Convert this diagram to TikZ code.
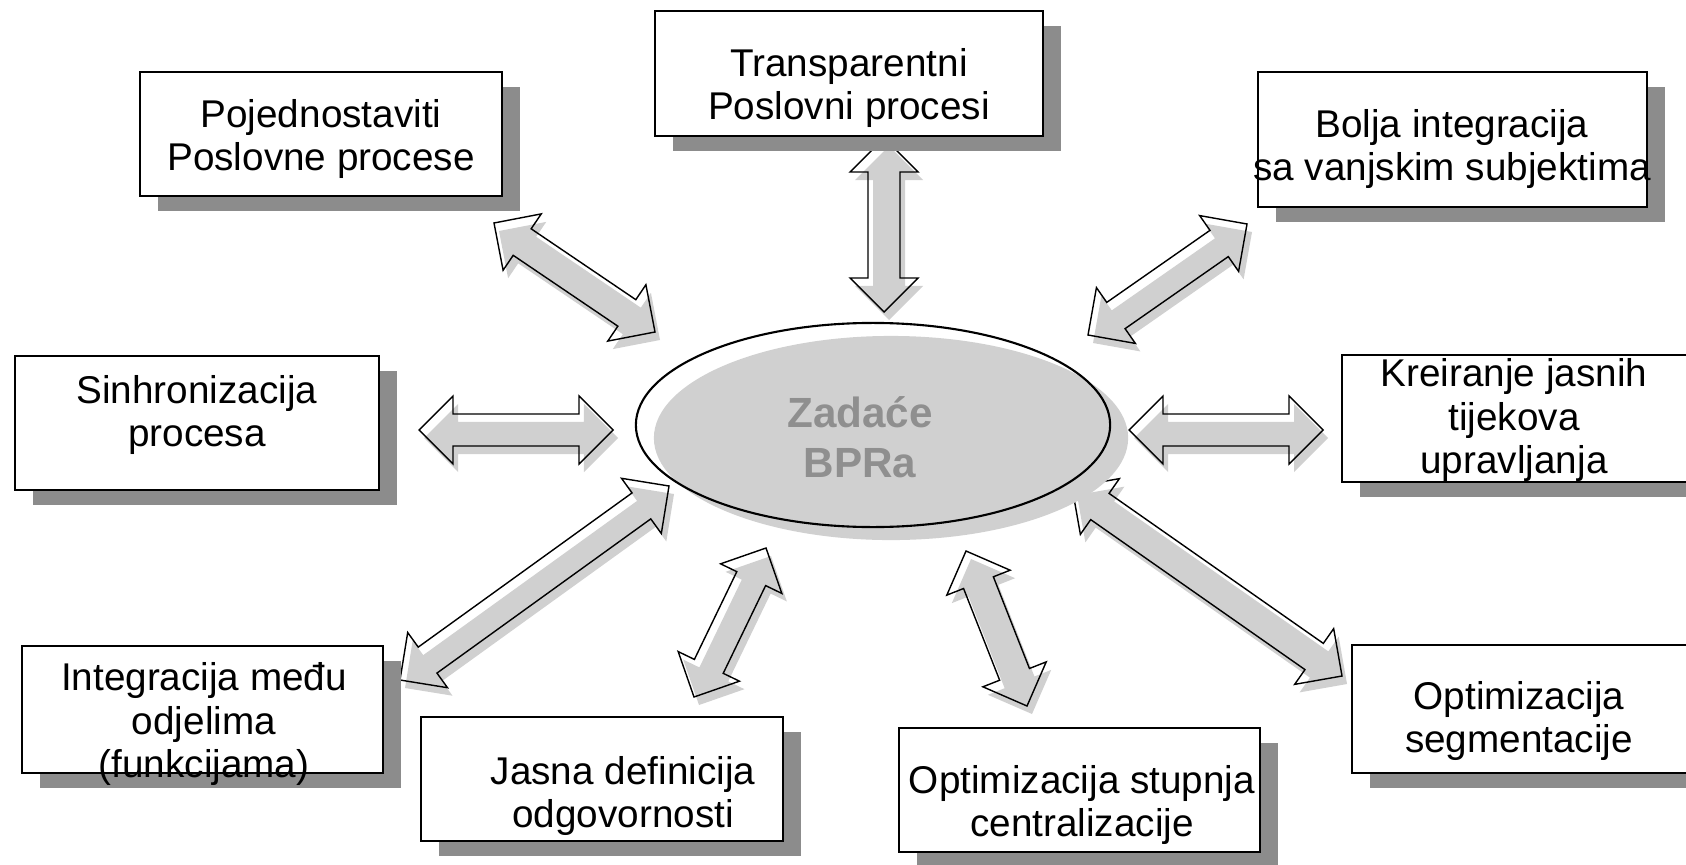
\documentclass[tikz,border=0pt]{standalone}
\usepackage{fontspec}
\setmainfont{Liberation Sans}
\usetikzlibrary{calc,shapes.geometric,shadows}
\definecolor{boxgray}{RGB}{140,140,140}
\definecolor{shadegray}{RGB}{208,208,208}
\definecolor{bprgray}{RGB}{143,143,143}
\begin{document}
\begin{tikzpicture}[x=0.01cm,y=-0.01cm]
                \tikzstyle{taskbox}=[rectangle,draw,line width=0.6pt,fill=white,inner sep=0pt,
                    drop shadow={shadow xshift=0.18cm,shadow yshift=-0.15cm,fill=boxgray,opacity=1}]
                \tikzstyle{tasktext}=[align=center,inner sep=0pt,font=\fontsize{11}{12.5}\selectfont]
                \tikzstyle{bprnode}=[ellipse,draw,line width=0.6pt,minimum width=4.74cm,minimum height=2.04cm,
                    drop shadow={shadow xshift=0.18cm,shadow yshift=-0.13cm,fill=shadegray,opacity=1}]
                \tikzstyle{bprtext}=[align=center,inner sep=0pt,text=bprgray,font=\bfseries\fontsize{12}{14.2}\selectfont]
                \tikzstyle{dualarrow}=[line width=0.4pt,to path={
                    -- ($(\tikztostart)!0.34cm!(\tikztotarget)!0.34cm!90:(\tikztotarget)$)
                    -- ($(\tikztostart)!0.34cm!(\tikztotarget)!0.16cm!90:(\tikztotarget)$)
                    -- ($(\tikztotarget)!0.34cm!(\tikztostart)!0.16cm!-90:(\tikztostart)$)
                    -- ($(\tikztotarget)!0.34cm!(\tikztostart)!0.34cm!-90:(\tikztostart)$)
                    -- (\tikztotarget)
                    -- ($(\tikztotarget)!0.34cm!(\tikztostart)!0.34cm!90:(\tikztostart)$)
                    -- ($(\tikztotarget)!0.34cm!(\tikztostart)!0.16cm!90:(\tikztostart)$)
                    -- ($(\tikztostart)!0.34cm!(\tikztotarget)!0.16cm!-90:(\tikztotarget)$)
                    -- ($(\tikztostart)!0.34cm!(\tikztotarget)!0.34cm!-90:(\tikztotarget)$)
                    -- cycle}]
                \tikzstyle{arrowshade}=[fill=shadegray,draw=none,transform canvas={shift={(0.05cm,-0.08cm)}}]
                \useasboundingbox (0,0) rectangle (1686,864);
                \begin{scope}
                    \coordinate (pojTip) at (494,223);
                    \coordinate (pojEnd) at (655,332);
                    \coordinate (traTip) at (884,138);
                    \coordinate (traEnd) at (884,312);
                    \coordinate (bolTip) at (1247,224);
                    \coordinate (bolEnd) at (1088,335);
                    \coordinate (sinTip) at (419,430);
                    \coordinate (sinEnd) at (613,430);
                    \coordinate (kreTip) at (1323,430);
                    \coordinate (kreEnd) at (1129,430);
                    \coordinate (intTip) at (400,680);
                    \coordinate (intEnd) at (669,486);
                    \coordinate (jasTip) at (694,697);
                    \coordinate (jasEnd) at (766,548);
                    \coordinate (cenTip) at (1027,706);
                    \coordinate (cenEnd) at (966,551);
                    \coordinate (segTip) at (1342,676);
                    \coordinate (segEnd) at (1072,487);
                \end{scope}
                \begin{scope}
                    \fill[dualarrow,arrowshade] (pojTip) to (pojEnd);
                    \fill[dualarrow,arrowshade] (traTip) to (traEnd);
                    \fill[dualarrow,arrowshade] (bolTip) to (bolEnd);
                    \fill[dualarrow,arrowshade] (sinTip) to (sinEnd);
                    \fill[dualarrow,arrowshade] (kreTip) to (kreEnd);
                    \fill[dualarrow,arrowshade] (intTip) to (intEnd);
                    \fill[dualarrow,arrowshade] (jasTip) to (jasEnd);
                    \fill[dualarrow,arrowshade] (cenTip) to (cenEnd);
                    \fill[dualarrow,arrowshade] (segTip) to (segEnd);
                    \draw[dualarrow] (pojTip) to (pojEnd);
                    \draw[dualarrow] (traTip) to (traEnd);
                    \draw[dualarrow] (bolTip) to (bolEnd);
                    \draw[dualarrow] (sinTip) to (sinEnd);
                    \draw[dualarrow] (kreTip) to (kreEnd);
                    \draw[dualarrow] (intTip) to (intEnd);
                    \draw[dualarrow] (jasTip) to (jasEnd);
                    \draw[dualarrow] (cenTip) to (cenEnd);
                    \draw[dualarrow] (segTip) to (segEnd);
                \end{scope}
                \begin{scope}
                    \node[bprnode] (bpr) at (873,425) {};
                    \node[bprtext] (bprLabel) at (860,437) {Zadaće\\BPRa};
                \end{scope}
                \begin{scope}
                    \node[taskbox,minimum width=3.62cm,minimum height=1.24cm] (pojBox) at (321,134) {};
                    \node[tasktext] (pojText) at (321,139) {Pojednostaviti\\Poslovne procese};
                    \node[taskbox,minimum width=3.88cm,minimum height=1.25cm] (traBox) at (849,73.5) {};
                    \node[tasktext] (traText) at (849,88) {Transparentni\\Poslovni procesi};
                    \node[taskbox,minimum width=3.89cm,minimum height=1.35cm] (bolBox) at (1452.5,139.5) {};
                    \node[tasktext] (bolText) at (1452,149) {Bolja integracija\\sa vanjskim subjektima};
                    \node[taskbox,minimum width=3.64cm,minimum height=1.34cm] (sinBox) at (197,423) {};
                    \node[tasktext] (sinText) at (197,415) {Sinhronizacija\\procesa};
                    \node[taskbox,minimum width=3.58cm,minimum height=1.27cm] (kreBox) at (1521,418.5) {};
                    \node[tasktext] (kreText) at (1514,420) {Kreiranje jasnih\\tijekova\\upravljanja};
                    \node[taskbox,minimum width=3.61cm,minimum height=1.27cm] (intBox) at (202.5,709.5) {};
                    \node[tasktext] (intText) at (204,724) {Integracija među\\odjelima\\(funkcijama)};
                    \node[taskbox,minimum width=3.62cm,minimum height=1.24cm] (jasBox) at (602,779) {};
                    \node[tasktext] (jasText) at (623,796) {Jasna definicija\\odgovornosti};
                    \node[taskbox,minimum width=3.61cm,minimum height=1.24cm] (cenBox) at (1079.5,790) {};
                    \node[tasktext] (cenText) at (1082,805) {Optimizacija stupnja\\centralizacije};
                    \node[taskbox,minimum width=3.48cm,minimum height=1.28cm] (segBox) at (1526,709) {};
                    \node[tasktext] (segText) at (1519,721) {Optimizacija\\segmentacije};
                \end{scope}
\end{tikzpicture}
\end{document}
